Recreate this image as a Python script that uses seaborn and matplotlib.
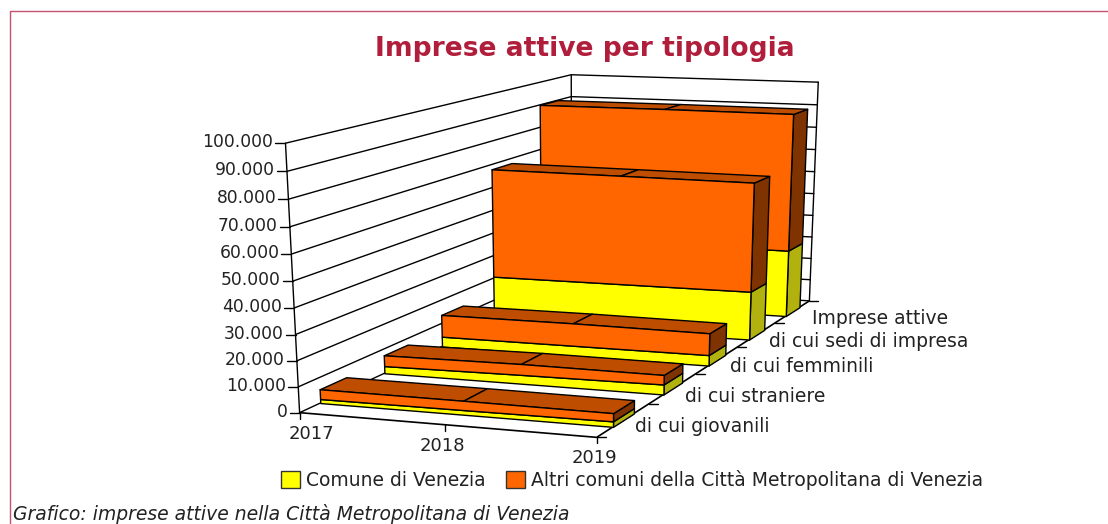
import numpy as np
import matplotlib
matplotlib.use('Agg')
import matplotlib.pyplot as plt
import seaborn as sns
from matplotlib.lines import Line2D
from matplotlib.patches import Patch
from matplotlib.transforms import IdentityTransform
from mpl_toolkits.mplot3d.art3d import Poly3DCollection

W, H = 1108, 524

# data, front to back
years = ['2017', '2018', '2019']
categories = ['di cui giovanili', 'di cui straniere', 'di cui femminili',
              'di cui sedi di impresa', 'Imprese attive']
series = ['Comune di Venezia', 'Altri comuni della Città Metropolitana di Venezia']
comune = [
    [1600, 1800, 2100],
    [3000, 3600, 4000],
    [4300, 4350, 4400],
    [20700, 20800, 20900],
    [29700, 29750, 29800],
]
altri = [
    [3850, 3600, 3100],
    [4450, 4400, 3800],
    [9400, 9500, 9100],
    [47250, 46850, 46350],
    [60300, 60350, 60100],
]
z_ticks = list(range(0, 100001, 10000))

# where the box corners sit on the picture: (x, y, z) -> pixel
calib = [
    (0, 0, 0, 300, 412.7), (2, 0, 0, 596, 437), (2, 5, 0, 809, 300.7),
    (0, 0, 100000, 285.6, 143.6), (2, 5, 100000, 818, 82), (0, 5, 100000, 571, 74.7),
    (0, 5, 90000, 571.5, 96.7), (0, 0, 50000, 291.7, 281), (0, 0, 90000, 287.3, 171),
    (0, 0, 70000, 290, 226.7), (1, 0, 0, 445, 425), (2, 1, 0, 650, 404),
    (2, 2, 0, 695, 374), (2, 3, 0, 736.7, 347.3), (2, 4, 0, 776, 322.7),
    (2, 5, 90000, 817.7, 105),
]

sns.set_theme(style='white', rc={'font.family': 'DejaVu Sans', 'text.color': '#222222'})
yellow, orange = sns.color_palette(['#FFFF00', '#FF6600'])
orange_top = '#BF4D00'
orange_side = '#7F3300'
yellow_side = '#B2B20E'

fig = plt.figure(figsize=(W / 100, H / 100), dpi=100)
ax = fig.add_subplot(projection='3d', computed_zorder=False)
ax.set_position([0, -(W - H) / 2 / H, 1, W / H])
ax.apply_aspect()
ax.set_axis_off()
ax.set_xlim(0, 2, view_margin=0)
ax.set_ylim(0, 5, view_margin=0)
ax.set_zlim(0, 100000, view_margin=0)


def fit_camera():
    c = np.array(calib, dtype=float)
    view = ax.transData.inverted().transform(np.c_[c[:, 3], H - c[:, 4]])
    world = np.c_[c[:, 0], c[:, 1], c[:, 2] / 1e5, np.ones(len(c))]
    rows = []
    for w, (u, v) in zip(world, view):
        rows.append(np.r_[w, np.zeros(4), -u * w])
        rows.append(np.r_[np.zeros(4), w, -v * w])
    _, _, vt = np.linalg.svd(np.array(rows))
    P = vt[-1].reshape(3, 4)
    P[:, 2] *= 1e-5
    return np.array([P[0], P[1], [0, 1, 0, 0], P[2]])


M = fit_camera()
ax.get_proj = lambda: M


def screen(x, y, z):
    v = M @ np.array([x, y, z, 1.0])
    return ax.transData.transform((v[0] / v[3], v[1] / v[3]))


def add_face(verts, color, z):
    ax.add_collection3d(Poly3DCollection([verts], facecolors=[color], edgecolors='black',
                                         linewidths=1, zorder=z), autolim=False)


def draw_block(i, base, top, front_c, side_c, top_c, z):
    y0, y1 = i + 0.3, i + 0.7
    xs = [0, 1, 2]
    add_face([(2, y0, base[2]), (2, y1, base[2]), (2, y1, top[2]), (2, y0, top[2])], side_c, z)
    if top_c is not None:
        for a in (0, 1):
            add_face([(xs[a], y0, top[a]), (xs[a + 1], y0, top[a + 1]),
                      (xs[a + 1], y1, top[a + 1]), (xs[a], y1, top[a])], top_c, z)
    front = [(x, y0, t) for x, t in zip(xs, top)] + [(x, y0, b) for x, b in zip(xs[::-1], base[::-1])]
    add_face(front, front_c, z)


# walls and floor
for v in z_ticks:
    ax.plot([0, 0, 2], [0, 5, 5], [v, v, v], color='black', lw=1, zorder=1)
for x, y in [(0, 0), (0, 5), (2, 5)]:
    ax.plot([x, x], [y, y], [0, 100000], color='black', lw=1, zorder=1)
ax.plot([0, 2, 2], [0, 0, 5], [0, 0, 0], color='black', lw=1.2, zorder=1)

# stacked blocks, back one first
order = 10
for i in range(len(categories) - 1, -1, -1):
    c = np.array(comune[i], dtype=float)
    t = c + np.array(altri[i], dtype=float)
    draw_block(i, np.zeros(3), c, yellow, yellow_side, None, order)
    draw_block(i, c, t, orange, orange_side, orange_top, order + 1)
    order += 2


def tick(p, dx, dy):
    fig.add_artist(Line2D([p[0], p[0] + dx], [p[1], p[1] + dy], color='black', lw=1,
                          transform=IdentityTransform()))


def label(px, py, text, **kw):
    fig.text(px, py, text, transform=IdentityTransform(), **kw)


NUM_FS = 12.3
TXT_FS = 13.5
for v in z_ticks:
    p = screen(0, 0, v)
    tick(p, -10, 0)
    label(p[0] - 12, p[1] + 1, f'{v:,}'.replace(',', '.'), ha='right', va='center', fontsize=NUM_FS)

for x, (name, dx) in enumerate(zip(years, [12, -2, -2])):
    p = screen(x, 0, 0)
    tick(p, 0, -6)
    label(p[0] + dx, p[1] - 21, name, ha='center', va='center', fontsize=13)

for y in range(len(categories) + 1):
    tick(screen(2, y, 0), 9, 0)

for name, (px, py) in zip(categories, [(635, 426), (685, 396), (730, 366.5), (769, 341.5), (812, 318)]):
    label(px, H - py, name, ha='left', va='center', fontsize=TXT_FS)

label(585, H - 49, 'Imprese attive per tipologia', ha='center', va='center',
      fontsize=19.1, fontweight='bold', color='#B01E3C')
label(13, H - 514, 'Grafico: imprese attive nella Città Metropolitana di Venezia',
      ha='left', va='center', fontsize=TXT_FS, fontstyle='italic')

handles = [Patch(facecolor=yellow, edgecolor='#333333', lw=1),
           Patch(facecolor=orange, edgecolor='#333333', lw=1)]
fig.legend(handles, series, ncol=2, loc='center', bbox_to_anchor=(632 / W, 1 - 480 / H),
           frameon=False, fontsize=TXT_FS, handlelength=1.0, handleheight=1.0,
           handletextpad=0.32, columnspacing=1.07)

border = '#C2536F'
fig.add_artist(Line2D([10, 10, W], [0, H - 11, H - 11], color=border, lw=1,
                      transform=IdentityTransform()))

fig.savefig('out.png', dpi=100)
